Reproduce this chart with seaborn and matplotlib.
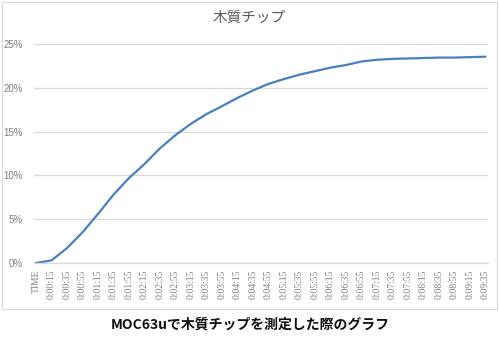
import matplotlib
matplotlib.use("Agg")
import matplotlib.pyplot as plt
import seaborn as sns
import pandas as pd
from matplotlib.patches import Rectangle
from matplotlib.ticker import PercentFormatter, FixedLocator

sns.set_theme(style="white")
plt.rcParams['font.family'] = ['Noto Sans CJK JP', 'DejaVu Sans']

title = "木質チップ"
caption = "MOC63uで木質チップを測定した際のグラフ"

times = ["TIME", "0:00:15", "0:00:35", "0:00:55", "0:01:15", "0:01:35", "0:01:55",
         "0:02:15", "0:02:35", "0:02:55", "0:03:15", "0:03:35", "0:03:55", "0:04:15",
         "0:04:35", "0:04:55", "0:05:15", "0:05:35", "0:05:55", "0:06:15", "0:06:35",
         "0:06:55", "0:07:15", "0:07:35", "0:07:55", "0:08:15", "0:08:35", "0:08:55",
         "0:09:15", "0:09:35"]
moisture = [0.0, 0.3, 1.7, 3.5, 5.6, 7.8, 9.7, 11.3, 13.1, 14.6, 15.9, 17.0, 17.9,
            18.85, 19.7, 20.45, 21.0, 21.5, 21.9, 22.3, 22.6, 23.0, 23.2, 23.3,
            23.35, 23.4, 23.45, 23.45, 23.5, 23.55]

df = pd.DataFrame({"time": times, "value": [v / 100 for v in moisture]})

fig = plt.figure(figsize=(5.0, 3.45), dpi=100)
fig.patches.append(Rectangle((2 / 500, 1 - 309 / 345), 495 / 500, 307 / 345,
                             transform=fig.transFigure, fill=False,
                             edgecolor="#d9d9d9", linewidth=0.8))

ax = fig.add_axes([34 / 500, 1 - 263 / 345, 454 / 500, 219 / 345])
sns.lineplot(data=df, x="time", y="value", sort=False, ax=ax,
             color="#4a7fbd", linewidth=1.6, clip_on=False)

ax.set_ylim(0, 0.25)
ax.set_xlim(-2 / 15.5, len(times) - 1 + 2.5 / 15.5)
ax.yaxis.set_major_locator(FixedLocator([0, 0.05, 0.10, 0.15, 0.20, 0.25]))
ax.yaxis.set_major_formatter(PercentFormatter(1.0, decimals=0))
ax.grid(axis="y", color="#d9d9d9", linewidth=0.9)
ax.grid(axis="x", visible=False)
for s in ["top", "right", "left"]:
    ax.spines[s].set_visible(False)
ax.spines["bottom"].set_color("#d9d9d9")
ax.spines["bottom"].set_linewidth(0.9)
ax.set_xlabel("")
ax.set_ylabel("")
ax.set_xticks(range(len(times)))
ax.set_xticklabels(times, rotation=90, fontsize=6.9, color="#7f7f7f",
                   family=["Liberation Serif", "DejaVu Sans"])
ax.tick_params(axis="x", length=0, pad=5)
ax.tick_params(axis="y", length=0, pad=8, labelsize=7, labelcolor="#7f7f7f")
for lab in ax.get_yticklabels():
    lab.set_family(["Liberation Sans", "DejaVu Sans"])

fig.text(0.498, 1 - 18 / 345, title, ha="center", va="center",
         fontsize=10.5, color="#595959", family=["Noto Sans CJK JP", "DejaVu Sans"])
fig.text(0.5, 1 - 325 / 345, caption, ha="center", va="center",
         fontsize=10, fontweight="bold", color="#111111")

fig.savefig("out.png", dpi=100, facecolor="white")
